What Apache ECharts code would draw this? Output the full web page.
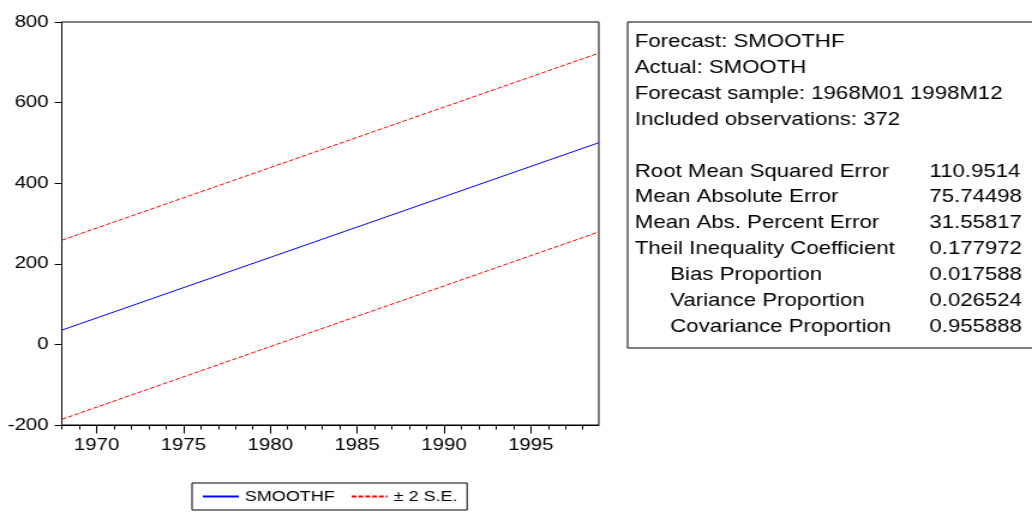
<!DOCTYPE html>
<html>
<head>
<meta charset="utf-8">
<script src="https://cdn.jsdelivr.net/npm/echarts@6/dist/echarts.min.js"></script>
<style>
  html, body { margin: 0; padding: 0; background: #fff; overflow: hidden; }
  /* the canvas is laid out narrow and widened, giving the broad lettering of the output */
  #chart { width: 860px; height: 513px; transform: scaleX(1.2); transform-origin: 0 0; }
</style>
</head>
<body>
<div id="chart"></div>
<script>
// Forecast path (1968M01 .. 1998M12) and its ±2 S.E. band, endpoints of each straight line
const periods = ['1968M01', '1998M12'];
const smoothf = [35.4, 500.6];
const upperBand = [258.5, 722.7];
const lowerBand = [-185.9, 279.1];

// axis ticks
const yearTicks = [1968,1969,1970,1971,1972,1973,1974,1975,1976,1977,1978,1979,1980,1981,1982,
  1983,1984,1985,1986,1987,1988,1989,1990,1991,1992,1993,1994,1995,1996,1997,1998];
const yearLabels = [1970, 1975, 1980, 1985, 1990, 1995];

// forecast evaluation table
const headerLines = [
  'Forecast: SMOOTHF',
  'Actual: SMOOTH',
  'Forecast sample: 1968M01 1998M12',
  'Included observations: 372'
];
const statNames = [
  'Root Mean Squared Error',
  'Mean Absolute Error',
  'Mean Abs. Percent Error',
  'Theil Inequality Coefficient',
  'Bias Proportion',
  'Variance Proportion',
  'Covariance Proportion'
];
const statIndent = [0, 0, 0, 0, 1, 1, 1];
const statValues = ['110.9514', '75.74498', '31.55817', '0.177972', '0.017588', '0.026524', '0.955888'];

function periodToYear(p) {
  const y = parseInt(p.slice(0, 4), 10);
  const m = parseInt(p.slice(5), 10);
  return y + (m - 1) / 12;
}
function pairs(values) {
  return periods.map((p, i) => [periodToYear(p), values[i]]);
}

const FONT = '"Liberation Sans", Arial, sans-serif';
const xMin = periodToYear('1968M01');
const xMax = periodToYear('1998M12');

// table block
const boxLeft = 523;
const textLeft = 529;
const indentLeft = 558.5;
const valueLeft = 774.5;
const lineTop = 42;
const lineStep = 25.9;
const tableChildren = [{
  type: 'rect',
  shape: { x: boxLeft, y: 22, width: 400, height: 326 },
  style: { fill: '#fff', stroke: '#000', lineWidth: 1 }
}];
headerLines.forEach((t, i) => {
  tableChildren.push({
    type: 'text',
    style: { x: textLeft, y: lineTop + i * lineStep, text: t, fill: '#000',
      font: '18.5px ' + FONT, verticalAlign: 'middle', align: 'left' }
  });
});
statNames.forEach((t, i) => {
  const y = lineTop + (i + 5) * lineStep;
  tableChildren.push({
    type: 'text',
    style: { x: statIndent[i] ? indentLeft : textLeft, y: y, text: t, fill: '#000',
      font: '18.5px ' + FONT, verticalAlign: 'middle', align: 'left' }
  });
  tableChildren.push({
    type: 'text',
    style: { x: valueLeft, y: y, text: statValues[i], fill: '#000',
      font: '18.5px ' + FONT, verticalAlign: 'middle', align: 'left' }
  });
});

const chart = echarts.init(document.getElementById('chart'), null, { renderer: 'canvas' });
chart.setOption({
  animation: false,
  backgroundColor: '#fff',
  grid: {
    left: 51.5, top: 22, width: 447.5, height: 403,
    show: true, borderColor: '#000', borderWidth: 1, backgroundColor: 'transparent'
  },
  legend: {
    left: 160, top: 483,
    itemWidth: 30, itemHeight: 14, itemGap: 13,
    padding: [6, 8, 6, 8],
    borderColor: '#000', borderWidth: 1,
    itemStyle: { opacity: 0 },
    textStyle: { fontSize: 15, fontFamily: FONT, color: '#000' },
    data: ['SMOOTHF', '± 2 S.E.']
  },
  xAxis: [{
    type: 'value', min: xMin, max: xMax,
    axisLine: { show: true, onZero: false, lineStyle: { color: '#000', width: 1 } },
    axisTick: { show: true, customValues: yearTicks, length: 4.5, lineStyle: { color: '#000' } },
    axisLabel: {
      customValues: yearLabels, margin: 12,
      fontSize: 17, fontFamily: FONT, color: '#000',
      formatter: v => String(Math.round(v))
    },
    splitLine: { show: false }
  }, {
    type: 'value', min: xMin, max: xMax, position: 'bottom',
    axisLine: { show: false, onZero: false },
    axisTick: { show: true, customValues: yearLabels, length: 8.5, lineStyle: { color: '#000' } },
    axisLabel: { show: false },
    splitLine: { show: false }
  }],
  yAxis: {
    type: 'value', min: -200, max: 800, interval: 200,
    axisLine: { show: true, onZero: false, lineStyle: { color: '#000', width: 1 } },
    axisTick: { show: true, length: 6, lineStyle: { color: '#000' } },
    axisLabel: { margin: 11, fontSize: 17, fontFamily: FONT, color: '#000' },
    splitLine: { show: false }
  },
  series: [{
    name: 'SMOOTHF', type: 'line', symbol: 'none', xAxisIndex: 0,
    data: pairs(smoothf),
    lineStyle: { color: '#0000ff', width: 1 },
    itemStyle: { color: '#0000ff' }
  }, {
    name: '± 2 S.E.', type: 'line', symbol: 'none', xAxisIndex: 0,
    data: pairs(upperBand),
    lineStyle: { color: '#ff0000', width: 1, type: [4, 1.7] },
    itemStyle: { color: '#ff0000' }
  }, {
    name: '± 2 S.E.', type: 'line', symbol: 'none', xAxisIndex: 0,
    data: pairs(lowerBand),
    lineStyle: { color: '#ff0000', width: 1, type: [4, 1.7] },
    itemStyle: { color: '#ff0000' }
  }],
  graphic: [{ type: 'group', children: tableChildren }]
});
</script>
</body>
</html>
